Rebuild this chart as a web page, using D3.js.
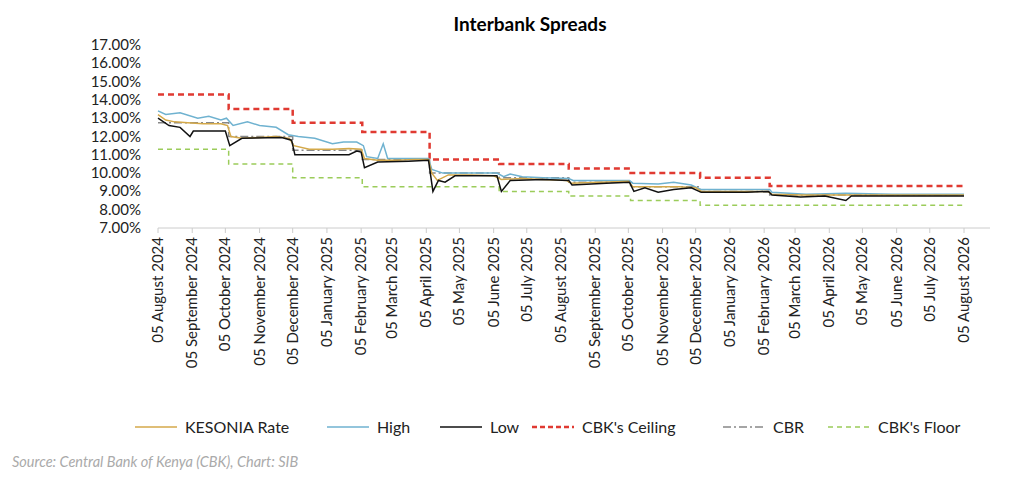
<!DOCTYPE html>
<html><head><meta charset="utf-8">
<script src="https://cdn.jsdelivr.net/npm/d3@7"></script>
<style>body{margin:0;background:#fff;font-family:Lato,"Open Sans",sans-serif;}</style>
</head><body><svg id="chart" width="1024" height="496"></svg>
<script>
const yTicks = [7, 8, 9, 10, 11, 12, 13, 14, 15, 16, 17];
const kesonia = [["2024-08-05",13.2],["2024-08-12",12.9],["2024-08-20",12.8],["2024-09-01",12.75],["2024-09-15",12.7],["2024-10-01",12.7],["2024-10-07",12.6],["2024-10-10",12.0],["2024-10-20",11.9],["2024-11-05",11.95],["2024-11-20",12.0],["2024-12-02",11.9],["2024-12-06",11.5],["2024-12-20",11.3],["2025-01-10",11.3],["2025-01-25",11.35],["2025-02-05",11.3],["2025-02-08",10.8],["2025-02-20",10.7],["2025-03-10",10.7],["2025-03-25",10.75],["2025-04-07",10.75],["2025-04-10",10.0],["2025-04-15",9.6],["2025-04-25",9.9],["2025-05-15",9.9],["2025-06-05",9.85],["2025-06-12",9.65],["2025-06-30",9.7],["2025-07-20",9.65],["2025-08-10",9.6],["2025-08-14",9.45],["2025-09-10",9.5],["2025-10-05",9.55],["2025-10-09",9.25],["2025-10-30",9.25],["2025-11-20",9.25],["2025-12-05",9.2],["2025-12-10",9.0],["2026-01-15",9.0],["2026-02-08",9.0],["2026-02-12",8.85],["2026-03-10",8.8],["2026-04-01",8.8],["2026-05-01",8.8],["2026-06-01",8.8],["2026-07-01",8.8],["2026-08-05",8.8]];
const high = [["2024-08-05",13.4],["2024-08-12",13.2],["2024-08-25",13.3],["2024-09-10",13.0],["2024-09-20",13.1],["2024-10-01",12.9],["2024-10-06",13.0],["2024-10-12",12.6],["2024-10-25",12.8],["2024-11-05",12.6],["2024-11-20",12.5],["2024-12-01",12.1],["2024-12-10",12.0],["2024-12-25",11.9],["2025-01-10",11.6],["2025-01-20",11.7],["2025-02-01",11.7],["2025-02-07",11.5],["2025-02-10",10.9],["2025-02-20",10.8],["2025-02-25",11.6],["2025-03-01",10.8],["2025-03-20",10.8],["2025-04-07",10.8],["2025-04-10",10.2],["2025-04-20",10.0],["2025-05-10",10.0],["2025-06-08",10.0],["2025-06-14",9.8],["2025-06-20",9.95],["2025-07-01",9.8],["2025-07-20",9.75],["2025-08-12",9.7],["2025-08-16",9.6],["2025-09-10",9.6],["2025-10-06",9.6],["2025-10-09",9.45],["2025-11-01",9.4],["2025-11-15",9.5],["2025-12-01",9.35],["2025-12-10",9.1],["2026-01-15",9.1],["2026-02-10",9.1],["2026-02-12",8.95],["2026-03-15",8.85],["2026-04-20",8.9],["2026-06-01",8.85],["2026-08-05",8.85]];
const low = [["2024-08-05",13.0],["2024-08-15",12.6],["2024-08-25",12.5],["2024-09-03",12.0],["2024-09-06",12.3],["2024-10-05",12.3],["2024-10-09",11.5],["2024-10-20",11.9],["2024-11-25",11.95],["2024-12-04",11.8],["2024-12-07",11.0],["2025-01-25",11.0],["2025-02-01",11.2],["2025-02-05",11.15],["2025-02-08",10.3],["2025-02-20",10.6],["2025-03-20",10.65],["2025-04-07",10.7],["2025-04-11",9.0],["2025-04-16",9.6],["2025-04-22",9.5],["2025-05-01",9.85],["2025-06-08",9.85],["2025-06-12",9.0],["2025-06-20",9.6],["2025-07-20",9.65],["2025-08-12",9.6],["2025-08-15",9.35],["2025-09-15",9.45],["2025-10-06",9.5],["2025-10-10",9.0],["2025-10-20",9.2],["2025-11-01",8.95],["2025-11-15",9.1],["2025-12-01",9.2],["2025-12-10",8.95],["2026-01-20",8.95],["2026-02-09",9.0],["2026-02-12",8.8],["2026-03-10",8.7],["2026-04-01",8.75],["2026-04-20",8.5],["2026-04-25",8.75],["2026-08-05",8.75]];
const policyDates = ["2024-08-05","2024-10-08","2024-12-05","2025-02-06","2025-04-08","2025-06-10","2025-08-12","2025-10-07","2025-12-09","2026-02-10","2026-08-05"];
const cbr = [12.75, 12.0, 11.25, 10.75, 10.0, 9.75, 9.5, 9.25, 9.0, 8.8, 8.8];
const ceiling = [14.3, 13.5, 12.75, 12.25, 10.75, 10.5, 10.25, 10.0, 9.75, 9.3, 9.3];
const floor = [11.3, 10.5, 9.75, 9.25, 9.25, 9.0, 8.75, 8.5, 8.25, 8.25, 8.25];

const parse = d3.timeParse("%Y-%m-%d");
const svg = d3.select("#chart");
const x = d3.scaleTime().domain([parse("2024-08-05"), parse("2026-08-05")]).range([158, 964]);
const y = d3.scaleLinear().domain([7, 17]).range([228, 45]);

svg.append("text").attr("x", 530).attr("y", 31).attr("text-anchor", "middle")
  .attr("font-size", 19).attr("font-weight", "bold").text("Interbank Spreads");

// y labels
svg.selectAll(".yl").data(yTicks).join("text")
  .attr("x", 141).attr("y", d => y(d) + 5).attr("text-anchor", "end")
  .attr("font-size", 15).attr("fill", "#222").text(d => d.toFixed(2) + "%");

// x axis
const months = d3.range(0, 25).map(i => d3.timeMonth.offset(parse("2024-08-05"), i));
svg.append("line").attr("x1", 158).attr("x2", 990).attr("y1", 228).attr("y2", 228).attr("stroke", "#ccc");
svg.selectAll(".xt").data(months).join("line")
  .attr("x1", d => x(d)).attr("x2", d => x(d)).attr("y1", 228).attr("y2", 233).attr("stroke", "#ccc");
const fmt = d3.timeFormat("%d %B %Y");
svg.selectAll(".xl").data(months).join("text")
  .attr("transform", d => `translate(${x(d) + 5},237) rotate(-90)`)
  .attr("text-anchor", "end").attr("font-size", 15).attr("fill", "#222").text(d => fmt(d));

const line = d3.line().x(d => x(parse(d[0]))).y(d => y(d[1]));
const stepLine = d3.line().curve(d3.curveStepAfter).x(d => x(parse(d[0]))).y(d => y(d[1]));
const stepData = vals => policyDates.map((d, i) => [d, vals[i]]);

svg.append("path").attr("d", stepLine(stepData(floor))).attr("fill", "none")
  .attr("stroke", "#9bcc5a").attr("stroke-width", 1.5).attr("stroke-dasharray", "5,4");
svg.append("path").attr("d", stepLine(stepData(ceiling))).attr("fill", "none")
  .attr("stroke", "#e03a32").attr("stroke-width", 2.5).attr("stroke-dasharray", "6,4");
svg.append("path").attr("d", stepLine(stepData(cbr))).attr("fill", "none")
  .attr("stroke", "#888").attr("stroke-width", 1.5).attr("stroke-dasharray", "8,3,2,3");
svg.append("path").attr("d", line(high)).attr("fill", "none").attr("stroke", "#6fb2d0").attr("stroke-width", 1.5);
svg.append("path").attr("d", line(kesonia)).attr("fill", "none").attr("stroke", "#d4a94a").attr("stroke-width", 1.5);
svg.append("path").attr("d", line(low)).attr("fill", "none").attr("stroke", "#111").attr("stroke-width", 1.5);

// legend
const legend = [
  {name: "KESONIA Rate", color: "#d4a94a", dash: null, w: 1.5, x: 135},
  {name: "High", color: "#6fb2d0", dash: null, w: 1.5, x: 327},
  {name: "Low", color: "#111", dash: null, w: 1.5, x: 440},
  {name: "CBK's Ceiling", color: "#e03a32", dash: "5,3", w: 2.5, x: 532},
  {name: "CBR", color: "#888", dash: "8,3,2,3", w: 1.5, x: 723},
  {name: "CBK's Floor", color: "#9bcc5a", dash: "5,4", w: 1.5, x: 828}
];
const lg = svg.selectAll(".lg").data(legend).join("g").attr("transform", d => `translate(${d.x},427)`);
lg.append("line").attr("x1", 0).attr("x2", 42).attr("stroke", d => d.color)
  .attr("stroke-width", d => d.w).attr("stroke-dasharray", d => d.dash);
lg.append("text").attr("x", 50).attr("y", 5.5).attr("font-size", 16).attr("fill", "#222").text(d => d.name);

svg.append("text").attr("x", 12).attr("y", 467).attr("font-size", 14.5).attr("font-style", "italic")
  .attr("fill", "#aaa").text("Source: Central Bank of Kenya (CBK), Chart: SIB");
</script></body></html>
